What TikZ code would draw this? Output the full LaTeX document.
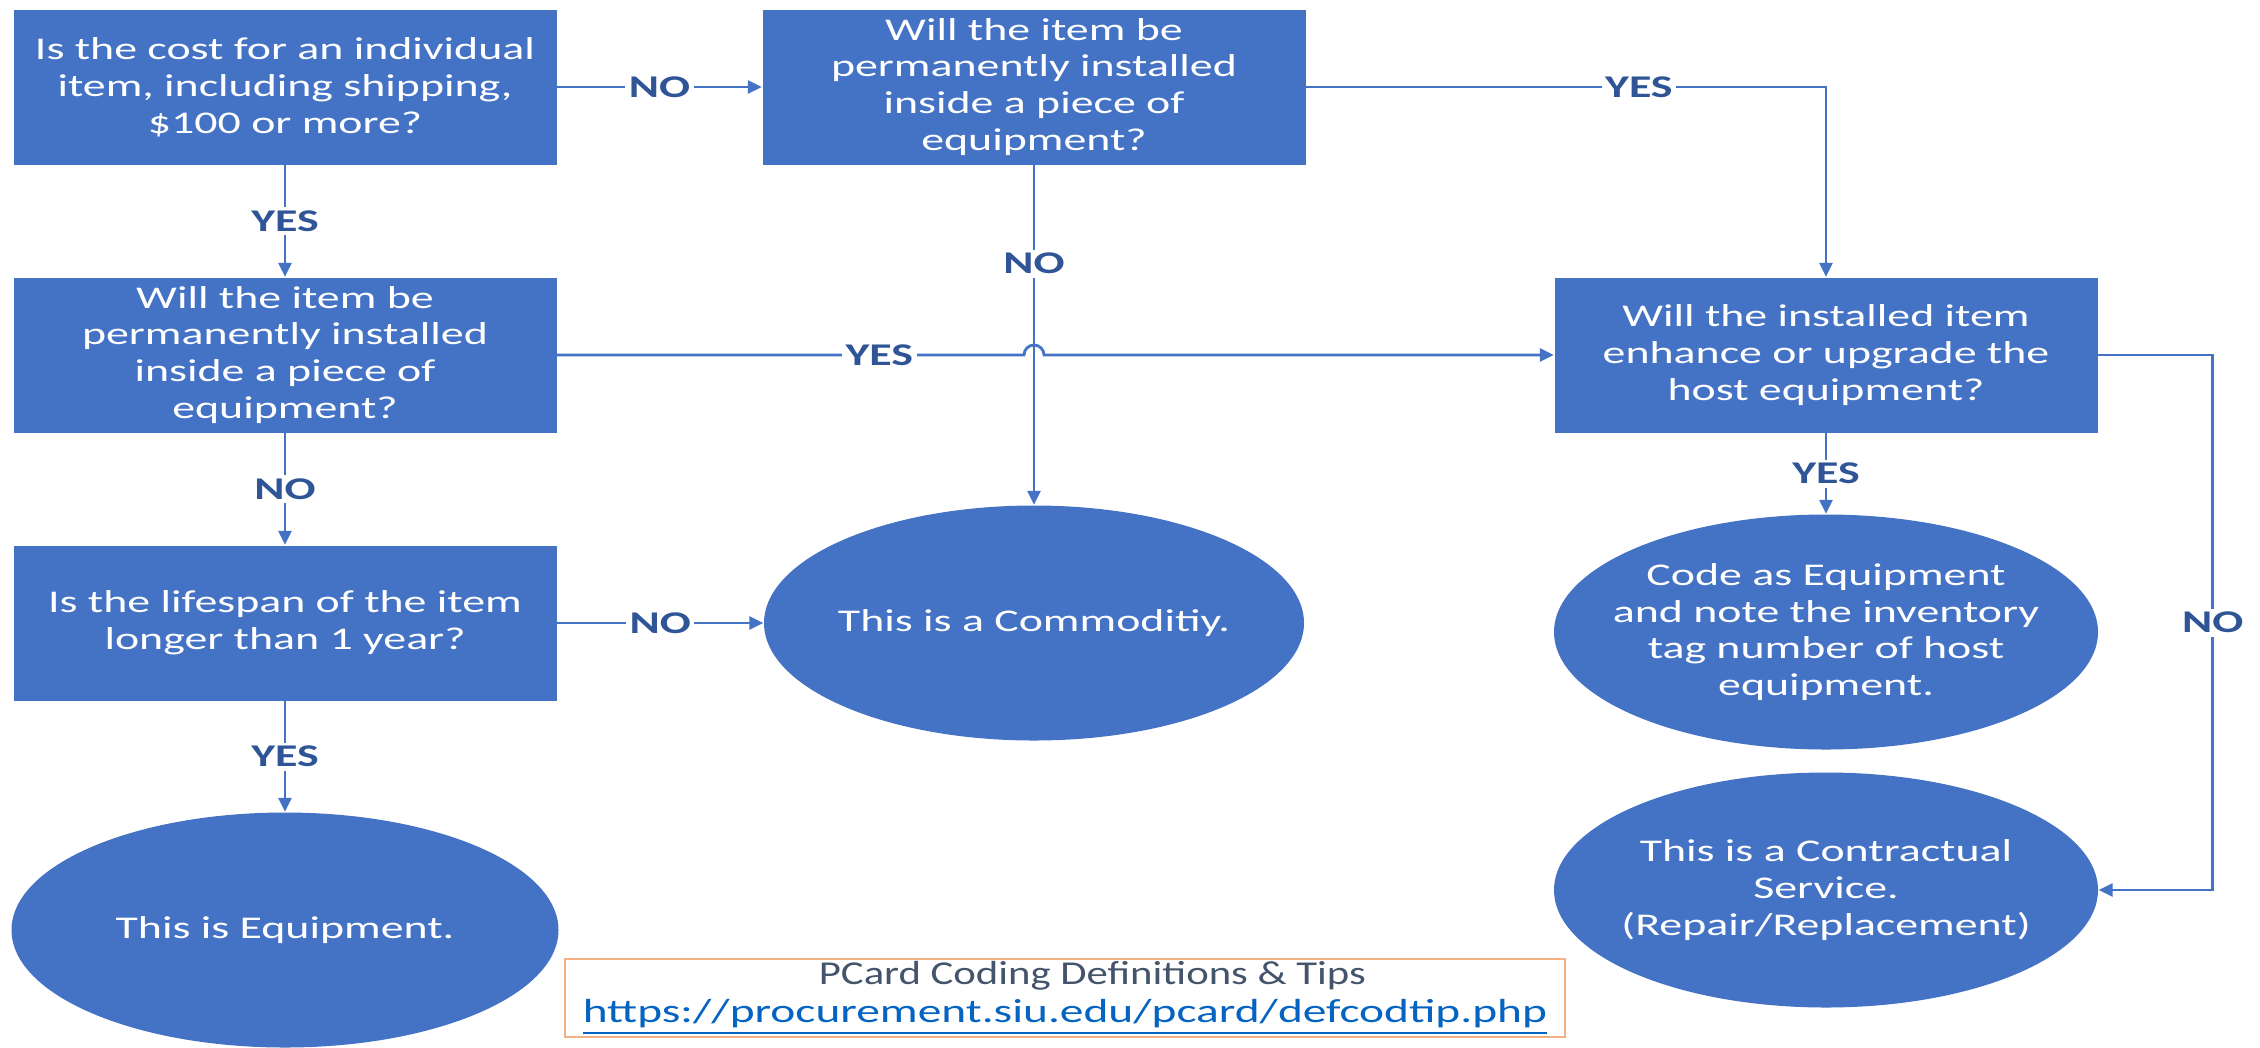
\documentclass[tikz,border=0pt]{standalone}
\usepackage{fontspec}
\setmainfont{Carlito}[FakeStretch=1.45]
\newfontfamily\notefont{Carlito}[FakeStretch=1.28]
\newfontfamily\linkfont{Carlito}[FakeStretch=1.42]
\usetikzlibrary{arrows.meta,shapes.geometric,calc}
\definecolor{ChartBlue}{HTML}{4472C4}
\definecolor{LabelNavy}{HTML}{2F5597}
\definecolor{NoteOrange}{HTML}{F4B183}
\definecolor{NoteSlate}{HTML}{44546A}
\definecolor{LinkBlue}{HTML}{0563C1}

\begin{document}
\begin{tikzpicture}[
  question/.style={rectangle, fill=ChartBlue, text=white, align=center,
                   minimum width=5.43cm, minimum height=1.55cm, inner sep=0pt,
                   font=\fontsize{9}{10.5}\selectfont},
  outcome/.style={ellipse, fill=ChartBlue, text=white, align=center,
                  minimum width=5.44cm, minimum height=2.35cm,
                  inner xsep=-0.5cm, inner ysep=0pt,
                  font=\fontsize{9}{10.5}\selectfont},
  flow/.style={-{Triangle[length=1.4mm,width=1.3mm]}, line width=0.8pt, draw=ChartBlue},
  answer/.style={fill=white, text=LabelNavy, inner sep=1pt,
                 font=\fontsize{9}{10}\selectfont\bfseries}
]
\useasboundingbox (0,0) rectangle (22.6,-10.47);
% questions
\node[question] (q1) at (2.85,-0.87)
  {Is the cost for an individual\\ item, including shipping,\\ \$100 or more?};
\node[question] (q2) at (10.34,-0.87)
  {Will the item be\\ permanently installed\\ inside a piece of\\ equipment?};
\node[question] (q3) at (2.85,-3.55)
  {Will the item be\\ permanently installed\\ inside a piece of\\ equipment?};
\node[question] (q4) at (2.85,-6.23)
  {Is the lifespan of the item\\ longer than 1 year?};
\node[question] (q5) at (18.26,-3.55)
  {Will the installed item\\ enhance or upgrade the\\ host equipment?};
% outcomes
\node[outcome, minimum width=5.40cm] (commodity) at (10.34,-6.23) {This is a Commoditiy.};
\node[outcome, minimum width=5.47cm] (equip) at (2.85,-9.30) {This is Equipment.};
\node[outcome] (code) at (18.26,-6.32)
  {Code as Equipment\\ and note the inventory\\ tag number of host\\ equipment.};
\node[outcome] (contract) at (18.26,-8.90)
  {This is a Contractual\\ Service.\\ (Repair/Replacement)};
% note
\node[draw=NoteOrange, line width=0.6pt, minimum width=10cm, minimum height=0.78cm,
      inner sep=0pt, align=center, font=\notefont\fontsize{9.5}{11}\selectfont]
  (note) at (10.65,-9.98)
  {\hspace*{0.55cm}\textcolor{NoteSlate}{PCard Coding Definitions \& Tips}\\
   \textcolor{LinkBlue}{\linkfont\underline{https://procurement.siu.edu/pcard/defcodtip.php}}};
% connectors
\draw[flow] (q1) -- node[answer]{NO} (q2);
\draw[flow] (q1) -- node[answer]{YES} (q3);
\draw[flow] (q2.east) -- node[answer, pos=0.64]{YES} (q2.east -| q5.north) -- (q5.north);
\draw[flow] (q2) -- node[answer, pos=0.29]{NO} (commodity);
\coordinate (hop) at (q3.east -| q2.south);
\draw[flow] (q3.east) -- node[answer, pos=0.69]{YES} ($(hop)+(-0.1,0)$)
  arc[start angle=180, end angle=0, radius=0.1] -- (q5.west);
\draw[flow] (q3) -- node[answer]{NO} (q4);
\draw[flow] (q4) -- node[answer]{NO} (commodity);
\draw[flow] (q4) -- node[answer]{YES} (equip);
\draw[flow] (q5) -- node[answer]{YES} (code);
\draw[flow] (q5.east) -- ++(1.145,0) |- node[answer, pos=0.25]{NO} (contract.east);
\end{tikzpicture}
\end{document}
